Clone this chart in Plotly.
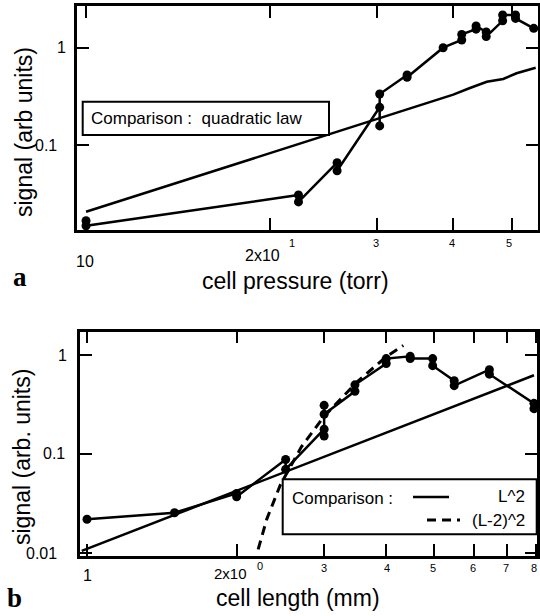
import plotly.graph_objects as go
import math

# ---------------- data ----------------
# panel a : signal vs cell pressure
pressure_a = [10, 10, 22.3, 22.3, 25.8, 25.8, 30.3, 30.3, 30.3, 33.6, 33.6, 38.5,
              41.3, 41.3, 43.6, 43.6, 45.3, 45.3, 48.2, 48.2, 50.6, 50.6, 54.2]
signal_a = [0.0167, 0.0148, 0.0306, 0.026, 0.0658, 0.0544, 0.244, 0.157, 0.334, 0.524, 0.496, 1.0,
            1.2, 1.37, 1.55, 1.67, 1.45, 1.3, 1.89, 2.17, 2.17, 2.0, 1.58]
quad_pressure_a = [10, 14.3, 20, 30, 40, 42.5, 45.4, 48.3, 50.8, 54.6]
quad_signal_a = [0.0206, 0.042, 0.0824, 0.183, 0.329, 0.383, 0.447, 0.477, 0.546, 0.623]

# panel b : signal vs cell length
length_b = [1.0, 1.5, 2.0, 2.0, 2.51, 2.51, 3.0, 3.0, 3.0, 3.0, 3.46, 3.46, 4.0, 4.0,
            4.47, 4.47, 4.96, 4.96, 5.48, 5.48, 6.45, 6.45, 7.93, 7.93]
signal_b = [0.0219, 0.0255, 0.040, 0.037, 0.088, 0.070, 0.178, 0.152, 0.31, 0.252, 0.43, 0.50,
            0.82, 0.92, 0.97, 0.92, 0.92, 0.78, 0.55, 0.49, 0.71, 0.64, 0.325, 0.287]
l2_length_b = [0.976, 7.93]
l2_signal_b = [0.0105, 0.624]
lm2_length_b = [2.21, 2.3, 2.45, 2.7, 3.0, 3.5, 4.0, 4.33]
lm2_signal_b = [0.0109, 0.022, 0.049, 0.118, 0.24, 0.54, 0.96, 1.25]

# tick labels
xticks_a = [10, 20, 30, 40, 50]
yticks_a = [1, 0.1]
ytick_text_a = ["1", "0.1"]
xticks_b = [1, 2, 3, 4, 5, 6, 7, 8]
yticks_b = [1, 0.1, 0.01]
ytick_text_b = ["1", "0.1", "0.01"]

# ---------------- layout helpers ----------------
W, H = 540, 616
def px(x):
    return x / W
def py(y):
    return 1 - y / H

FONT = "Liberation Sans, Arial, Helvetica, sans-serif"
SERIF = "Liberation Serif, Times New Roman, serif"

fig = go.Figure()

line_style = dict(color="black", width=2.5)
marker_style = dict(color="black", size=9, symbol="circle")

fig.add_trace(go.Scatter(x=quad_pressure_a, y=quad_signal_a, mode="lines",
                         line=line_style, xaxis="x", yaxis="y", showlegend=False))
fig.add_trace(go.Scatter(x=pressure_a, y=signal_a, mode="lines+markers",
                         line=line_style, marker=marker_style, xaxis="x", yaxis="y",
                         showlegend=False))

fig.add_trace(go.Scatter(x=l2_length_b, y=l2_signal_b, mode="lines",
                         line=line_style, xaxis="x2", yaxis="y2", showlegend=False))
fig.add_trace(go.Scatter(x=lm2_length_b, y=lm2_signal_b, mode="lines",
                         line=dict(color="black", width=3, dash="9px,6px"),
                         xaxis="x2", yaxis="y2", showlegend=False))
fig.add_trace(go.Scatter(x=length_b, y=signal_b, mode="lines+markers",
                         line=line_style, marker=marker_style, xaxis="x2", yaxis="y2",
                         showlegend=False))

axis_common = dict(type="log", showgrid=False, zeroline=False, showline=True,
                   linecolor="black", linewidth=2.5, mirror="ticks",
                   ticks="inside", ticklen=12, tickwidth=2, tickcolor="black",
                   showticklabels=False)

fig.update_layout(
    width=W, height=H,
    margin=dict(l=0, r=0, t=0, b=0),
    paper_bgcolor="white", plot_bgcolor="white",
    xaxis=dict(axis_common, domain=[px(77), px(538)], range=[0.9852, 1.741],
               tickvals=xticks_a, anchor="y"),
    yaxis=dict(axis_common, domain=[py(230), py(6)], range=[-1.8736, 0.4286],
               tickvals=yticks_a, anchor="x"),
    xaxis2=dict(axis_common, domain=[px(80), px(537)], range=[-0.01408, 0.9054],
                tickvals=xticks_b, anchor="y2"),
    yaxis2=dict(axis_common, domain=[py(556), py(331.7)], range=[-2.0303, 0.2354],
                tickvals=yticks_b, anchor="x2"),
)

ann = []
def text(x, y, s, size=16, xanchor="center", family=FONT, angle=0):
    ann.append(dict(x=px(x), y=py(y), xref="paper", yref="paper", text=s,
                    showarrow=False, xanchor=xanchor, yanchor="middle",
                    textangle=angle, font=dict(family=family, size=size, color="black")))

# panel a tick labels
ya_pos = {1: (61, 47), 0.1: (46, 145)}
for v, t in zip(yticks_a, ytick_text_a):
    text(ya_pos[v][0], ya_pos[v][1], t, 16)
text(85, 261, "10", 16)
text(262, 255, "2x10", 16)
text(292, 243, "1", 11)
xa_small = {30: 376, 40: 452, 50: 509}
for v in xticks_a[2:]:
    text(xa_small[v], 243, str(v // 10), 11)
text(295, 281, "cell pressure (torr)", 23)
text(24, 132, "signal (arb units)", 23, angle=-90)
text(20, 277, "<b>a</b>", 27, family=SERIF)
text(89, 118, "Comparison :&nbsp;&nbsp;quadratic law", 17, xanchor="left")

# panel b tick labels
yb_pos = {1: (62, 355), 0.1: (54, 453), 0.01: (41, 553)}
for v, t in zip(yticks_b, ytick_text_b):
    text(yb_pos[v][0], yb_pos[v][1], t, 16)
text(87, 575, "1", 16)
text(230, 573, "2x10", 15)
text(260, 566, "0", 11)
xb_small = {3: 324, 4: 387, 5: 433, 6: 473, 7: 506, 8: 534}
for v in xticks_b[2:]:
    text(xb_small[v], 568, str(v), 11)
text(298, 598, "cell length (mm)", 23)
text(22, 457, "signal (arb. units)", 23, angle=-90)
text(14, 598, "<b>b</b>", 27, family=SERIF)
text(290, 498, "Comparison :", 17, xanchor="left")
text(527, 497, "L^2", 17, xanchor="right")
text(470, 520, "(L-2)^2", 17, xanchor="left")

shapes = [
    dict(type="rect", xref="paper", yref="paper", x0=px(82.7), x1=px(329),
         y0=py(135), y1=py(101.7), line=dict(color="black", width=2),
         fillcolor="white", layer="above"),
    dict(type="rect", xref="paper", yref="paper", x0=px(282.7), x1=px(536.7),
         y0=py(534.3), y1=py(479.3), line=dict(color="black", width=2),
         fillcolor="white", layer="above"),
    dict(type="line", xref="paper", yref="paper", x0=px(413), x1=px(449),
         y0=py(497), y1=py(497), line=dict(color="black", width=2.5), layer="above"),
    dict(type="line", xref="paper", yref="paper", x0=px(427), x1=px(460),
         y0=py(520), y1=py(520), line=dict(color="black", width=3, dash="9px,6px"),
         layer="above"),
]

fig.update_layout(annotations=ann, shapes=shapes)
fig.write_html("out.html")
